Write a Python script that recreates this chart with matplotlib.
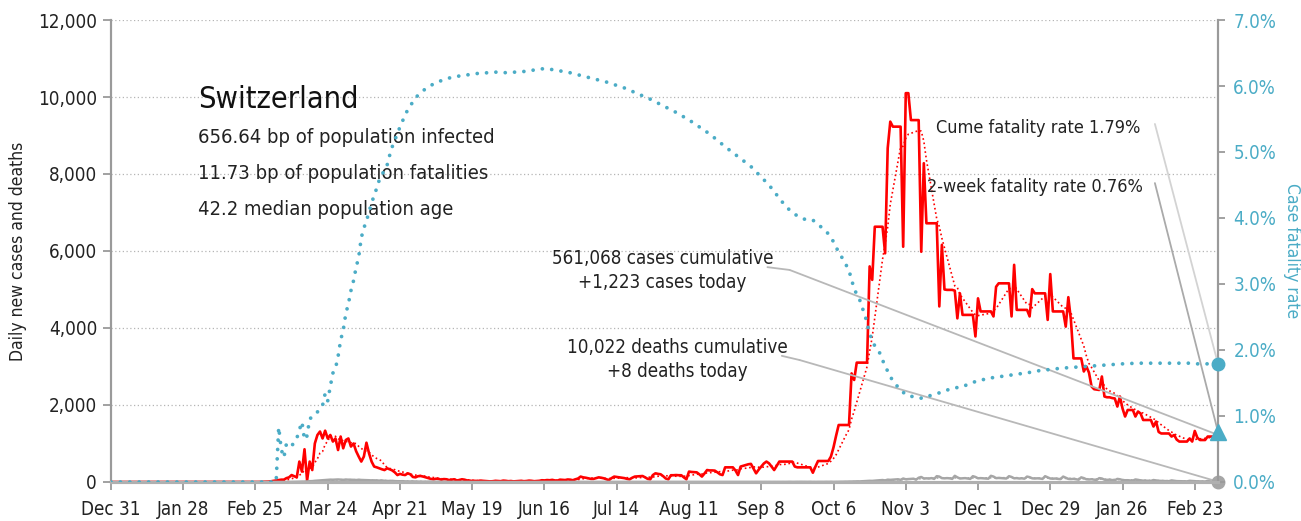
import matplotlib
matplotlib.use('Agg')
import matplotlib.pyplot as plt
import matplotlib.ticker as mticker
import pandas as pd

plt.rcParams['font.family'] = ['DejaVu Sans']
plt.rcParams['font.stretch'] = 'condensed'

# daily new cases, Dec 31 2019 .. Mar 4 2021
cases = (
    [0] * 57
    + [1, 3, 5, 8, 10, 18]
    + [30, 40, 50, 60, 60, 100, 120, 180, 150, 120]
    + [530, 270, 850, 40, 530, 310, 1000, 1220, 1310, 1130]
    + [1333, 1130, 1220, 1050, 1130, 830, 1180, 875, 1090, 1130]
    + [920, 1000, 800, 660, 530, 660, 1020, 745, 530, 400]
    + [380, 355, 330, 310, 355, 330, 300, 250, 180, 210]
    + [190, 180, 225, 200, 130, 120, 150, 155, 140, 120]
    + [100, 80, 70, 85, 80, 60, 75, 70, 50, 60]
    + [70, 40, 50, 70, 60]
    + [40, 35, 25, 30, 20, 35, 30, 25, 20, 15]
    + [20, 30, 25, 20, 35, 30, 20, 25, 15, 20]
    + [25, 30, 20, 25, 35, 30, 20, 25, 30, 45]
    + [40, 50, 45, 55, 40, 35, 60, 55, 50, 65]
    + [60, 45, 70, 90]
    + [140, 120, 110, 95, 80, 80, 100, 120, 110, 95]
    + [70, 50, 100, 140, 130, 120, 110, 100, 80, 70]
    + [110, 140, 145, 150, 155, 120, 80, 70, 180, 225]
    + [210, 200, 150, 90, 70, 175, 175, 180, 175, 175]
    + [120, 70, 270, 260, 255, 250, 200, 140, 220, 310]
    + [300, 300, 295, 250, 200, 180, 380, 380, 380, 380]
    + [300, 180, 400, 420, 440, 460, 470, 350, 225, 320]
    + [400, 480, 530, 485, 400, 310, 420, 530, 530, 530]
    + [530, 530, 530, 400, 380, 380, 380, 380, 380, 380]
    + [240, 400, 545, 545, 545, 545, 545, 660, 900, 1200]
    + [1480, 1480, 1480, 1480, 1480, 2820, 2650, 3100, 3100, 3100]
    + [3100, 3100, 5600, 5250, 6630, 6630, 6630, 6630, 5940, 8670]
    + [9360, 9230, 9230, 9230, 9230, 6110, 10100, 10100, 9400, 9400]
    + [9400, 9400, 5980, 8280, 6720, 6720, 6720, 6720, 6720, 4560]
    + [6160, 5000, 4990, 4990, 4990, 4970, 4250, 4900, 4340, 4340]
    + [4340, 4340, 4340, 3780, 4770, 4430, 4430, 4430, 4430, 4430]
    + [4300, 5070, 5160, 5160, 5160, 5160, 5160, 4300, 5640, 4470]
    + [4470, 4470, 4470, 4470, 4300, 5010, 4900, 4900, 4900, 4900]
    + [4900, 4210, 5400, 4430, 4430, 4430, 4430, 4430, 4035, 4800]
    + [4210, 3210, 3210, 3210, 3210, 2870, 3000, 2840, 2480, 2410]
    + [2400, 2390, 2740, 2220, 2200, 2200, 2180, 2170, 1960, 2220]
    + [1910, 1700, 1870, 1870, 1870, 1700, 1830, 1780, 1610, 1610]
    + [1610, 1610, 1440, 1570, 1300, 1260, 1260, 1260, 1260, 1180]
    + [1220, 1100, 1050, 1050, 1050, 1050, 1130, 1050, 1325, 1150]
    + [1090, 1090, 1090, 1180, 1180, 1180, 1110, 1223]
)

# daily new deaths
deaths = (
    [0] * 65
    + [1, 0, 1, 2, 1, 3, 4, 5, 7, 8]
    + [10, 15, 20, 22, 30, 35, 40, 45, 50, 55]
    + [60, 58, 62, 65, 60, 55, 62, 60, 58, 55]
    + [50, 58, 52, 50, 48, 45, 40, 42, 38, 35]
    + [40, 30, 28, 25, 30, 22, 20, 18, 20, 15]
    + [14, 12, 15, 10, 9, 8, 7, 6, 8, 5]
    + [4, 5, 3, 3, 2, 2, 3, 1, 2, 1]
    + [1, 2, 1, 0, 1, 1, 0, 1, 0, 1]
    + [0, 1, 2, 0, 0, 1, 0, 1, 0, 0]
    + [1, 0, 0, 1, 0, 1, 0, 0, 1, 0]
    + [0, 1, 0, 1, 0, 0, 1, 0, 0, 1]
    + [0, 1, 0, 0, 1, 1, 0, 0, 1, 0]
    + [1, 0, 1, 1, 0, 1, 2, 0, 1, 1]
    + [0, 1, 1, 2, 0, 1, 1, 0, 2, 1]
    + [1, 0, 2, 1, 1, 0, 1, 2, 1, 0]
    + [1, 1, 2, 1, 0, 2, 1, 1, 2, 0]
    + [1, 2, 1, 1, 3, 0, 2, 1, 2, 1]
    + [1, 3, 2, 1, 2, 0, 2, 3, 1, 2]
    + [2, 1, 3, 2, 1, 3, 2, 2, 3, 1]
    + [2, 3, 2, 3, 1, 2, 3, 2, 4, 2]
    + [3, 2, 4, 3, 2, 3, 4, 2, 3, 4]
    + [3, 2, 4, 3, 5]
    + [3, 4, 5, 6, 5, 8, 10, 9, 12, 15]
    + [14, 18, 20, 25, 30, 28, 35, 40, 45, 50]
    + [40, 60, 55, 60, 65, 70, 55]
    + [90, 70, 75, 80, 85, 60, 110]
    + [130, 90, 95, 90, 100, 80, 150]
    + [140, 100, 95, 100, 95, 80, 160]
    + [120, 90, 95, 100, 90, 80, 150]
    + [130, 95, 100, 95, 90, 85, 160]
    + [140, 100, 105, 100, 95, 90, 150]
    + [130, 95, 100, 90, 95, 85, 140]
    + [125, 95, 90, 95, 90, 80, 150]
    + [120, 90, 85, 90, 80, 75, 140]
    + [110, 80, 75, 80, 70, 60, 120]
    + [100, 70, 65, 70, 60, 55, 100]
    + [90, 60, 55, 60, 50, 45, 80]
    + [70, 50, 45, 45, 40, 35, 65]
    + [55, 40, 35, 35, 30, 28, 50]
    + [40, 30, 28, 25, 22, 20, 40]
    + [30, 22, 20, 18, 16, 15, 30]
    + [25, 18, 16, 15, 14, 12, 25]
    + [15, 12, 10, 8]
)

# cumulative case fatality rate, percent
cfr = (
    [0] * 65
    + [0.83, 0.49, 0.37, 0.58, 0.55, 0.54, 0.61, 0.66, 0.79, 0.91]
    + [0.64, 0.70, 0.96, 0.98, 1.01, 1.06, 1.12, 1.16, 1.34, 1.23]
    + [1.45, 1.65, 1.72, 1.90, 2.15, 2.30, 2.55, 2.70, 2.90, 3.05]
    + [3.25, 3.41, 3.70, 3.85, 3.95, 4.10, 4.22, 4.35, 4.45, 4.58]
    + [4.66, 4.72, 4.80, 4.95, 5.08, 5.18, 5.28, 5.38, 5.47, 5.56]
    + [5.64, 5.70, 5.76, 5.82, 5.86, 5.90, 5.93, 5.96, 5.99, 6.01]
    + [6.03, 6.05, 6.07, 6.08, 6.10, 6.11, 6.12, 6.13, 6.14, 6.15]
    + [6.15, 6.16, 6.16, 6.17, 6.17, 6.18, 6.18, 6.19, 6.19, 6.19]
    + [6.20, 6.20, 6.20, 6.21, 6.21, 6.21, 6.21, 6.21, 6.20, 6.20]
    + [6.20, 6.21, 6.21, 6.22, 6.22, 6.22, 6.23, 6.23, 6.24, 6.24]
    + [6.25, 6.25, 6.26, 6.26, 6.26, 6.25, 6.25, 6.24, 6.24, 6.23]
    + [6.22, 6.22, 6.21, 6.20, 6.19, 6.18, 6.17, 6.16, 6.15, 6.14]
    + [6.13, 6.12, 6.11, 6.10, 6.09, 6.08, 6.07, 6.06, 6.05, 6.04]
    + [6.02, 6.01, 6.00, 5.98, 5.97, 5.95, 5.94, 5.92, 5.90, 5.89]
    + [5.87, 5.85, 5.84, 5.82, 5.80, 5.78, 5.76, 5.74, 5.72, 5.70]
    + [5.68, 5.66, 5.64, 5.62, 5.60, 5.58, 5.56, 5.53, 5.51, 5.48]
    + [5.46, 5.43, 5.41, 5.38, 5.36, 5.33, 5.30, 5.27, 5.24, 5.21]
    + [5.18, 5.15, 5.11, 5.08, 5.05, 5.02, 4.99, 4.96, 4.93, 4.90]
    + [4.87, 4.84, 4.81, 4.78, 4.74, 4.70, 4.66, 4.62, 4.58, 4.54]
    + [4.50, 4.45, 4.40, 4.35, 4.30, 4.25, 4.20, 4.16, 4.12, 4.09]
    + [4.06, 4.03, 4.01, 3.99, 3.98, 3.98, 3.97, 3.97, 3.93, 3.90]
    + [3.87, 3.84, 3.80, 3.76, 3.70, 3.64, 3.56, 3.48, 3.42, 3.35]
    + [3.28, 3.20, 3.07, 2.92, 2.85, 2.78, 2.65, 2.56, 2.40, 2.25]
    + [2.15, 2.06, 2.00, 1.95, 1.85, 1.75, 1.68, 1.60, 1.53, 1.48]
    + [1.44, 1.40, 1.36, 1.32, 1.31, 1.30, 1.29, 1.28, 1.28, 1.27]
    + [1.27, 1.28, 1.30, 1.32, 1.33, 1.34, 1.35, 1.37, 1.38, 1.39]
    + [1.41, 1.42, 1.43, 1.43, 1.44, 1.44, 1.46, 1.48, 1.49, 1.51]
    + [1.52, 1.53, 1.53, 1.55, 1.57, 1.57, 1.58, 1.58, 1.59, 1.59]
    + [1.60, 1.60, 1.61, 1.62, 1.62, 1.63, 1.63, 1.64, 1.64, 1.65]
    + [1.66, 1.66, 1.67, 1.67, 1.68, 1.69, 1.69, 1.70, 1.70, 1.71]
    + [1.71, 1.71, 1.72, 1.72, 1.72, 1.73, 1.73, 1.74, 1.74, 1.74]
    + [1.75, 1.75, 1.75, 1.75, 1.76, 1.76, 1.76, 1.76, 1.77, 1.77]
    + [1.77, 1.77, 1.78, 1.78, 1.78, 1.78, 1.79, 1.79, 1.79, 1.79]
    + [1.79, 1.80, 1.80, 1.80, 1.80, 1.80, 1.80, 1.80, 1.80, 1.80]
    + [1.80, 1.80, 1.80, 1.80, 1.80, 1.80, 1.80, 1.80, 1.80, 1.80]
    + [1.80, 1.80, 1.80, 1.80, 1.80, 1.80, 1.79, 1.79, 1.79, 1.79]
    + [1.79, 1.79, 1.79, 1.79, 1.79]
)

cume_rate = 1.79
two_week_rate = 0.76
country = 'Switzerland'
stats = ['656.64 bp of population infected',
         '11.73 bp of population fatalities',
         '42.2 median population age']
cases_note = '561,068 cases cumulative\n+1,223 cases today'
deaths_note = '10,022 deaths cumulative\n+8 deaths today'

dates = pd.date_range('2019-12-31', periods=len(cases), freq='D')
cases_s = pd.Series(cases, index=dates)
deaths_s = pd.Series(deaths, index=dates)
cfr_s = pd.Series(cfr, index=dates) / 100

RED = '#ff0000'
CYAN = '#4bacc6'
GRAY = '#a6a6a6'
AXC = '#9a9a9a'

fig = plt.figure(figsize=(13.01, 5.21), dpi=100)
ax = fig.add_axes([0.0853, 0.0749, 0.8509, 0.8867])
ax2 = ax.twinx()

ax.yaxis.grid(True, linestyle=(0, (1, 2)), color='#b5b5b5', lw=0.9)
ax.set_axisbelow(True)

ax.plot(dates, cases_s, color=RED, lw=1.9, zorder=3)
ax.plot(dates, cases_s.rolling(7, min_periods=1).mean(), color=RED, lw=1.2, ls=':', zorder=3)
ax.plot(dates, deaths_s, color=GRAY, lw=1.8, zorder=3)
ax.plot(dates, deaths_s.rolling(7, min_periods=1).mean(), color=GRAY, lw=1.2, ls=':', zorder=3)
ax.plot(dates[-1], deaths_s.iloc[-1], 'o', color=GRAY, ms=9, clip_on=False, zorder=5)

ax2.plot(dates, cfr_s, color=CYAN, lw=2.7, ls=(0, (0.01, 2.5)),
         dash_capstyle='round', zorder=3)
ax2.plot(dates[-1], cume_rate / 100, 'o', color=CYAN, ms=9, clip_on=False, zorder=5)
ax2.plot(dates[-1], two_week_rate / 100, '^', color=CYAN, ms=11, clip_on=False, zorder=5)

ax.set_xlim(dates[0], dates[-1])
ax.set_ylim(0, 12000)
ax2.set_ylim(0, 0.07)

ticks = pd.date_range('2019-12-31', '2021-02-23', freq='28D')
ax.set_xticks(ticks)
ax.set_xticklabels([f'{d:%b} {d.day}' for d in ticks])
ax.set_yticks(range(0, 12001, 2000))
ax.yaxis.set_major_formatter(mticker.StrMethodFormatter('{x:,.0f}'))
ax2.set_yticks([i / 100 for i in range(8)])
ax2.yaxis.set_major_formatter(mticker.PercentFormatter(1.0, decimals=1))

for a in (ax, ax2):
    a.spines['top'].set_visible(False)
    for s in ('left', 'right', 'bottom'):
        a.spines[s].set_color(AXC)
    a.spines['left'].set_linewidth(1.5)
    a.spines['right'].set_linewidth(1.5)
    a.spines['bottom'].set_linewidth(2.2)
    a.spines['bottom'].set_color('#b0b0b0')

ax.tick_params(axis='y', length=6, width=1.3, color=AXC, labelsize=13.5, labelcolor='#222222', pad=4)
ax.tick_params(axis='x', length=6, width=1.3, color=AXC, labelsize=13.5, labelcolor='#222222', pad=7)
ax2.tick_params(axis='y', length=5, width=1.3, color=AXC, labelsize=13.5, labelcolor=CYAN, pad=6)

ax.set_ylabel('Daily new cases and deaths', fontsize=12.5, color='#222222', labelpad=8)
ax2.set_ylabel('Case fatality rate', fontsize=12.5, color=CYAN, rotation=270, labelpad=18)

ax.text(0.0786, 0.827, country, transform=ax.transAxes, fontsize=22,
        ha='left', va='center', color='#111111')
for i, line in enumerate(stats):
    ax.text(0.0786, 0.745 - i * 0.078, line, transform=ax.transAxes, fontsize=14.5,
            ha='left', va='center', color='#222222')

ax2.text(0.9295, 0.766, f'Cume fatality rate {cume_rate:.2f}%', transform=ax.transAxes,
         fontsize=13, ha='right', va='center', color='#222222')
ax2.text(0.932, 0.6385, f'2-week fatality rate {two_week_rate:.2f}%', transform=ax.transAxes,
         fontsize=13, ha='right', va='center', color='#222222')
ax2.text(0.498, 0.457, cases_note, transform=ax.transAxes, fontsize=13.5,
         ha='center', va='center', linespacing=1.35, color='#222222')
ax2.text(0.512, 0.265, deaths_note, transform=ax.transAxes, fontsize=13.5,
         ha='center', va='center', linespacing=1.35, color='#222222')

# leader lines from the notes to the last data points
lead = dict(arrowstyle='-', lw=1.3, shrinkA=0, shrinkB=0)
ax2.annotate('', xy=(dates[-1], cume_rate / 100), xytext=(0.943, 0.775),
             textcoords=ax.transAxes, arrowprops=dict(lead, color='#d3d3d3'), annotation_clip=False)
ax2.annotate('', xy=(dates[-1], two_week_rate / 100), xytext=(0.943, 0.647),
             textcoords=ax.transAxes, arrowprops=dict(lead, color='#aaaaaa'), annotation_clip=False)
ax.annotate('', xy=(dates[-1], cases_s.iloc[-1]), xytext=(0.613, 0.459),
            textcoords=ax.transAxes, arrowprops=dict(lead, color='#b8b8b8'), annotation_clip=False)
ax.annotate('', xy=(0.613, 0.459), xycoords=ax.transAxes, xytext=(0.593, 0.465),
            textcoords=ax.transAxes, arrowprops=dict(lead, color='#b8b8b8'))
ax.annotate('', xy=(dates[-1], deaths_s.iloc[-1]), xytext=(0.622, 0.264),
            textcoords=ax.transAxes, arrowprops=dict(lead, color='#b8b8b8'), annotation_clip=False)
ax.annotate('', xy=(0.622, 0.264), xycoords=ax.transAxes, xytext=(0.606, 0.273),
            textcoords=ax.transAxes, arrowprops=dict(lead, color='#b8b8b8'))

fig.savefig('out.png', dpi=100)
